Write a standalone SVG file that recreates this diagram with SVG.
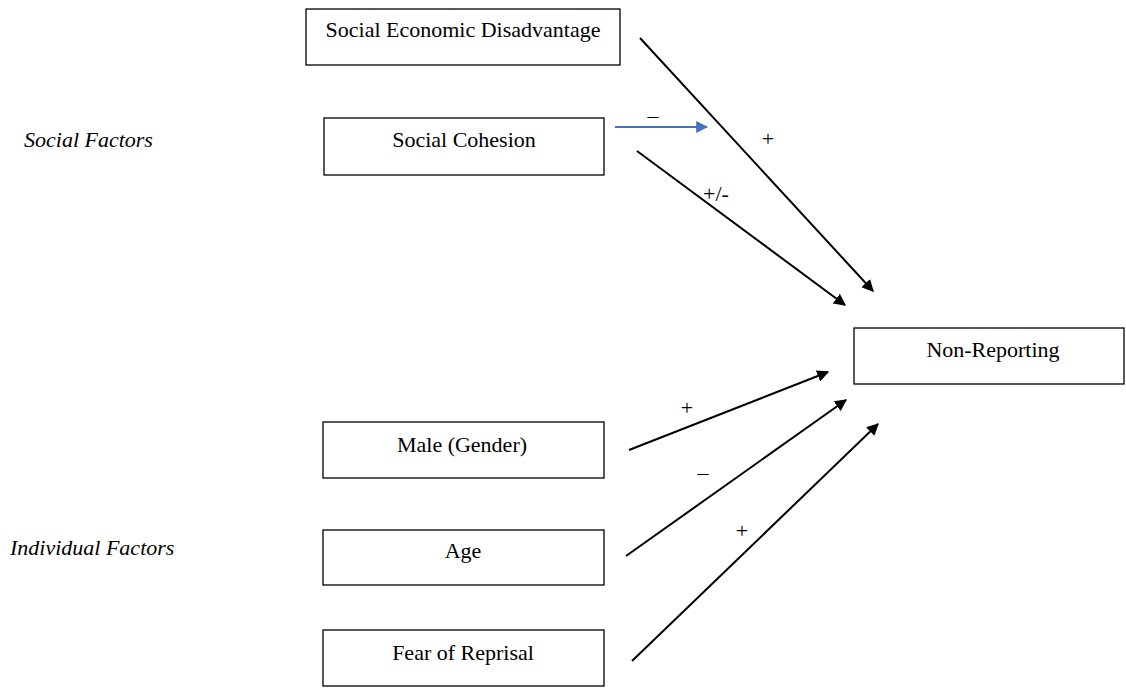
<svg xmlns="http://www.w3.org/2000/svg" width="1126" height="688" viewBox="0 0 1126 688">
<defs>
<style>
.box{fill:#fff;stroke:#000;stroke-width:1.3}
.t{font-family:"Liberation Serif","Times New Roman",serif;font-size:22px;fill:#000}
.c{text-anchor:middle}
.i{font-style:italic}
.ln{stroke:#000;stroke-width:2;fill:none}
.bl{stroke:#4472C4;stroke-width:2;fill:none}
</style>
<marker id="ah" viewBox="0 0 10 10" refX="9" refY="5" markerWidth="6" markerHeight="6" markerUnits="strokeWidth" orient="auto"><path d="M0,0 L10,5 L0,10 z" fill="#000"/></marker>
<marker id="ahb" viewBox="0 0 10 10" refX="9" refY="5" markerWidth="6" markerHeight="6" markerUnits="strokeWidth" orient="auto"><path d="M0,0 L10,5 L0,10 z" fill="#4472C4"/></marker>
</defs>
<rect width="1126" height="688" fill="#fff"/>
<text class="t i" x="24" y="147">Social Factors</text>
<text class="t i" x="10" y="555">Individual Factors</text>
<g id="sed"><rect class="box" x="306" y="9" width="314" height="56"/><text class="t c" x="463" y="37">Social Economic Disadvantage</text></g>
<g id="cohesion"><rect class="box" x="324" y="118" width="280" height="57"/><text class="t c" x="464" y="147">Social Cohesion</text></g>
<g id="nonreporting"><rect class="box" x="854" y="328" width="270" height="56"/><text class="t c" x="993" y="357">Non-Reporting</text></g>
<g id="male"><rect class="box" x="323" y="422" width="281" height="56"/><text class="t c" x="462" y="452">Male (Gender)</text></g>
<g id="age"><rect class="box" x="323" y="530" width="281" height="55"/><text class="t c" x="463" y="558">Age</text></g>
<g id="fear"><rect class="box" x="323" y="630" width="281" height="56"/><text class="t c" x="463" y="660">Fear of Reprisal</text></g>
<g id="connectors">
<line class="ln" x1="640" y1="38" x2="873" y2="291" marker-end="url(#ah)"/>
<line class="bl" x1="615" y1="127" x2="707" y2="127" marker-end="url(#ahb)"/>
<line class="ln" x1="637" y1="151" x2="845" y2="305" marker-end="url(#ah)"/>
<line class="ln" x1="629" y1="450" x2="828" y2="372" marker-end="url(#ah)"/>
<line class="ln" x1="626" y1="556" x2="846" y2="400" marker-end="url(#ah)"/>
<line class="ln" x1="632" y1="661" x2="878" y2="424" marker-end="url(#ah)"/>
<text class="t c" x="653" y="123">–</text>
<text class="t c" x="768" y="146">+</text>
<text class="t c" x="716" y="201">+/-</text>
<text class="t c" x="687" y="415">+</text>
<text class="t c" x="703" y="480">–</text>
<text class="t c" x="742" y="538">+</text>
</g>
</svg>
